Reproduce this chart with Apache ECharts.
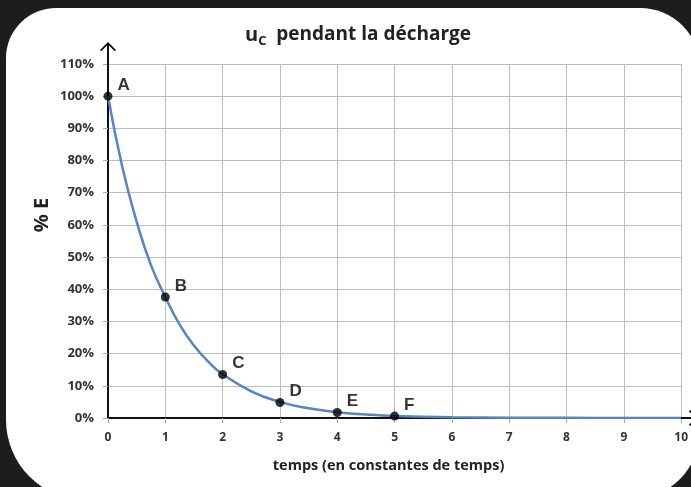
<!DOCTYPE html>
<html><head><meta charset="utf-8">
<script src="https://cdn.jsdelivr.net/npm/echarts@6/dist/echarts.min.js"></script>
<style>html,body{margin:0;padding:0;background:#1d1d1d}#c{width:691px;height:487px}</style>
</head><body><div id="c"></div>
<script>
// ---- data ----
const curveT = [0, 0.25, 0.5, 0.75, 1, 1.25, 1.5, 1.75, 2, 2.5, 3, 3.5, 4, 4.5, 5, 5.5, 6, 7, 8, 9, 10];
const curveV = [100, 78, 61, 47.5, 37.6, 29, 22.5, 17.5, 13.6, 8.3, 5.0, 3.0, 1.8, 1.1, 0.6, 0.4, 0.25, 0.1, 0.04, 0.01, 0];
const pointNames = ['A', 'B', 'C', 'D', 'E', 'F'];
const pointT = [0, 1, 2, 3, 4, 5];
const pointV = [100, 37.6, 13.5, 4.8, 1.7, 0.6];
const xTicks = [0, 1, 2, 3, 4, 5, 6, 7, 8, 9, 10];
const yTicks = [0, 10, 20, 30, 40, 50, 60, 70, 80, 90, 100, 110];

const FONT = '"Open Sans", "Liberation Sans", sans-serif';
const LFONT = '"Liberation Sans", Arial, sans-serif';
const arrowPath = 'path://M8,0 L16,8 L14.7,9.3 L9,3.5 L9,30 L7,30 L7,3.5 L1.3,9.3 L0,8 Z';

const chart = echarts.init(document.getElementById('c'), null, {renderer: 'canvas'});
chart.setOption({
  backgroundColor: '#1d1d1d',
  animation: false,
  graphic: [
    {type: 'rect', z: -100, silent: true,
     shape: {x: 6, y: 8, width: 694, height: 492, r: [50, 60, 70, 80]},
     style: {fill: '#ffffff'}},
    {type: 'text', z: 10, silent: true, x: 42, y: 215, rotation: Math.PI / 2,
     style: {text: '% E', font: 'bold 20px ' + FONT, fill: '#222', align: 'center', verticalAlign: 'middle'}}
  ],
  title: {
    left: 240, top: 20,
    text: '{u|u}{s|C}{t|  pendant la décharge}',
    textStyle: {
      rich: {
        u: {fontFamily: FONT, fontWeight: 'bold', fontSize: 20, color: '#222', lineHeight: 24, verticalAlign: 'top'},
        s: {fontFamily: FONT, fontWeight: 'bold', fontSize: 13, color: '#222', lineHeight: 16, verticalAlign: 'top', padding: [10, 0, 0, 0]},
        t: {fontFamily: FONT, fontWeight: 'bold', fontSize: 19, color: '#222', lineHeight: 24, verticalAlign: 'top'}
      }
    }
  },
  grid: {left: 108, right: 4, top: 64, bottom: 69, containLabel: false},
  xAxis: {
    type: 'value', min: xTicks[0], max: xTicks[xTicks.length - 1], interval: 1,
    name: 'temps (en constantes de temps)', nameLocation: 'middle', nameGap: 40,
    nameTextStyle: {fontFamily: FONT, fontWeight: 'bold', fontSize: 14.5, color: '#222', padding: [0, 12, 0, 0]},
    axisLine: {show: true, onZero: false, lineStyle: {color: '#111', width: 2},
               symbol: ['none', arrowPath], symbolSize: [16, 30], symbolOffset: [0, 2]},
    axisTick: {show: true, length: 5, lineStyle: {color: '#aaa', width: 1}},
    axisLabel: {fontFamily: FONT, fontWeight: 'bold', fontSize: 12, color: '#333', margin: 14},
    splitLine: {show: true, lineStyle: {color: '#bdbdbd', width: 1}}
  },
  yAxis: {
    type: 'value', min: yTicks[0], max: yTicks[yTicks.length - 1], interval: 10,
    axisLine: {show: true, onZero: false, lineStyle: {color: '#111', width: 2},
               symbol: ['none', arrowPath], symbolSize: [16, 30], symbolOffset: [0, 7]},
    axisTick: {show: true, length: 5, lineStyle: {color: '#aaa', width: 1}},
    axisLabel: {fontFamily: FONT, fontWeight: 'bold', fontSize: 13, color: '#333', margin: 14,
                formatter: v => v + '%'},
    splitLine: {show: true, lineStyle: {color: '#bdbdbd', width: 1}}
  },
  series: [
    {
      type: 'line', smooth: 0.5, showSymbol: false, silent: true,
      data: curveT.map((t, i) => [t, curveV[i]]),
      lineStyle: {color: '#5585c4', width: 2.5}, z: 3
    },
    {
      type: 'scatter', symbolSize: 9, silent: true, z: 5,
      itemStyle: {color: '#000'},
      data: pointT.map((t, i) => ({name: pointNames[i], value: [t, pointV[i]]})),
      label: {show: true, position: 'right', distance: 3, offset: [2, -11],
              formatter: p => p.name,
              fontFamily: LFONT, fontWeight: 'bold', fontSize: 17, color: '#000'}
    }
  ]
});
</script></body></html>
